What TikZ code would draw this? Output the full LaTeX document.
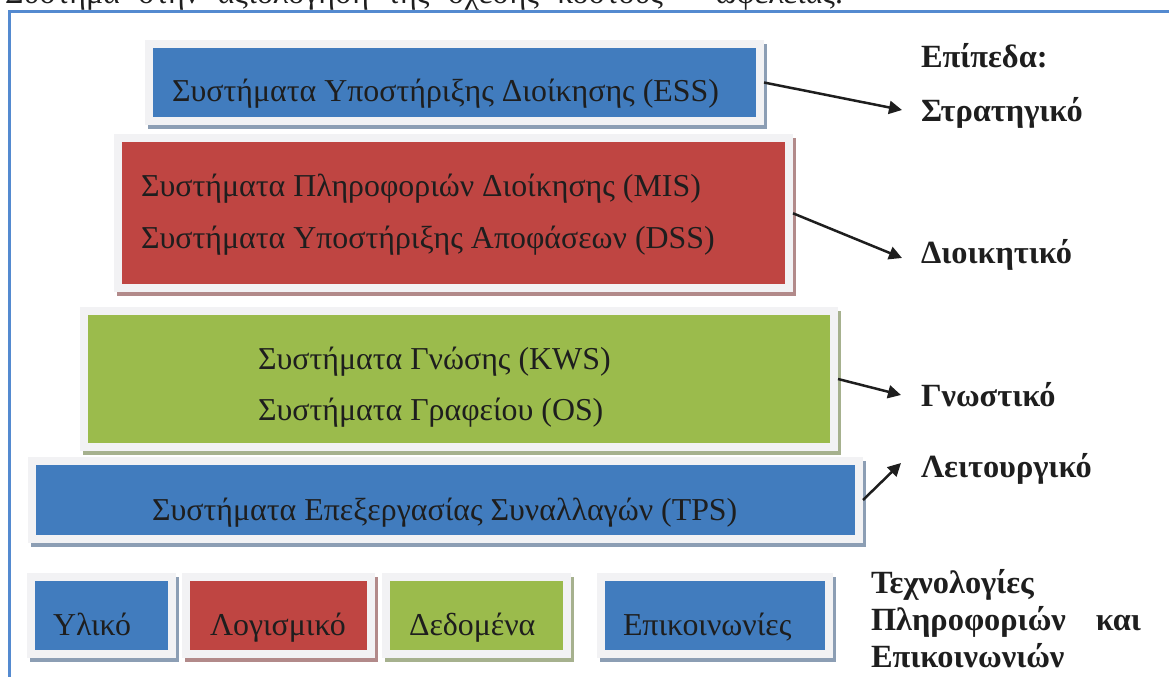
\documentclass[tikz,border=0pt]{standalone}
\usepackage{fontspec}
\setmainfont{Liberation Serif}
\usetikzlibrary{arrows.meta,fit}

\definecolor{frameblue}{RGB}{84,138,208}
\definecolor{boxblue}{RGB}{65,124,190}
\definecolor{boxred}{RGB}{191,69,66}
\definecolor{boxgreen}{RGB}{155,187,76}
\definecolor{rimgray}{RGB}{242,242,244}
\definecolor{shadeblue}{RGB}{140,158,180}
\definecolor{shadered}{RGB}{178,138,138}
\definecolor{shadegreen}{RGB}{166,177,142}
\definecolor{ink}{RGB}{30,30,30}

\tikzset{
  tier/.style args={#1/#2}{fill=#1, draw=rimgray, line width=8bp,
    inner sep=4bp, outer sep=4bp,
    preaction={fill=#2, draw=#2, transform canvas={shift={(3bp,-4bp)}}}},
  boxtext/.style={font=\fontsize{32}{38}\selectfont, text=ink,
    inner sep=0pt, outer sep=0pt, anchor=base west},
  leveltext/.style={font=\fontsize{32.5}{38}\selectfont\bfseries, text=ink,
    inner sep=0pt, outer sep=0pt, anchor=base west},
  link/.style={draw=ink, line width=2.5bp, -{Triangle[length=13bp,width=13bp]}}
}

\begin{document}
\begin{tikzpicture}[x=1bp,y=-1bp]
\useasboundingbox (0,0) rectangle (1169,677);
\clip (0,0) rectangle (1169,677);

% justified caption line of the page, cut by the top edge
\node[boxtext] (caption) at (5,4) {\hbox to 838bp{Σύστημα\hfil στην\hfil αξιολόγηση\hfil της\hfil σχέσης\hfil κόστους\hfil –\hfil ωφέλειας.}};

% outer frame
\draw[frameblue, line width=3bp] (9.5,11.5) rectangle (1200,700);

% pyramid of information systems
\node[tier=boxblue/shadeblue,   fit={(153,48) (756,117)}]      (ess) {};
\node[tier=boxred/shadered,     fit={(121.7,142.3) (785,284.3)}] (mis) {};
\node[tier=boxgreen/shadegreen, fit={(88,315) (830,443)}]      (kws) {};
\node[tier=boxblue/shadeblue,   fit={(36,465) (855,535)}]      (tps) {};

\node[boxtext] (esst) at (172,102) {Συστήματα Υποστήριξης Διοίκησης (ESS)};
\node[boxtext] (mist) at (141,197) {Συστήματα Πληροφοριών Διοίκησης (MIS)};
\node[boxtext] (dsst) at (141,248) {Συστήματα Υποστήριξης Αποφάσεων (DSS)};
\node[boxtext] (kwst) at (258,369) {Συστήματα Γνώσης (KWS)};
\node[boxtext] (ost)  at (258,420) {Συστήματα Γραφείου (OS)};
\node[boxtext] (tpst) at (152,520) {Συστήματα Επεξεργασίας Συναλλαγών (TPS)};

% technology base
\node[tier=boxblue/shadeblue,   fit={(35,581) (168,650)}]  (hw)   {};
\node[tier=boxred/shadered,     fit={(190,581) (367,650)}] (sw)   {};
\node[tier=boxgreen/shadegreen, fit={(390,581) (563,650)}] (data) {};
\node[tier=boxblue/shadeblue,   fit={(605,581) (825,650)}] (comm) {};

\node[boxtext] (hwt)   at (53,635)  {Υλικό};
\node[boxtext] (swt)   at (210,635) {Λογισμικό};
\node[boxtext] (datat) at (409,635) {Δεδομένα};
\node[boxtext] (commt) at (623,635) {Επικοινωνίες};

% levels
\node[leveltext] (lvl)   at (921,68)    {Επίπεδα:};
\node[leveltext] (strat) at (921,121.5) {Στρατηγικό};
\node[leveltext] (admin) at (921,263)   {Διοικητικό};
\node[leveltext] (know)  at (921,406)   {Γνωστικό};
\node[leveltext] (oper)  at (921,477)   {Λειτουργικό};

\node[leveltext] (ict1) at (871,593)   {Τεχνολογίες};
\node[leveltext] (ict2) at (871,630.7) {Πληροφοριών};
\node[leveltext, anchor=base east] (ict2b) at (1141,630.7) {και};
\node[leveltext] (ict3) at (871,667)   {Επικοινωνιών};

% arrows to the levels
\coordinate (tipS) at (902,110);
\coordinate (tipA) at (902,258);
\coordinate (tipK) at (901,395);
\coordinate (tipO) at (901,463);
\draw[link] (ess.east) -- (tipS);
\draw[link] (mis.east) -- (tipA);
\draw[link] (kws.east) -- (tipK);
\draw[link] (tps.east) -- (tipO);
\end{tikzpicture}
\end{document}
